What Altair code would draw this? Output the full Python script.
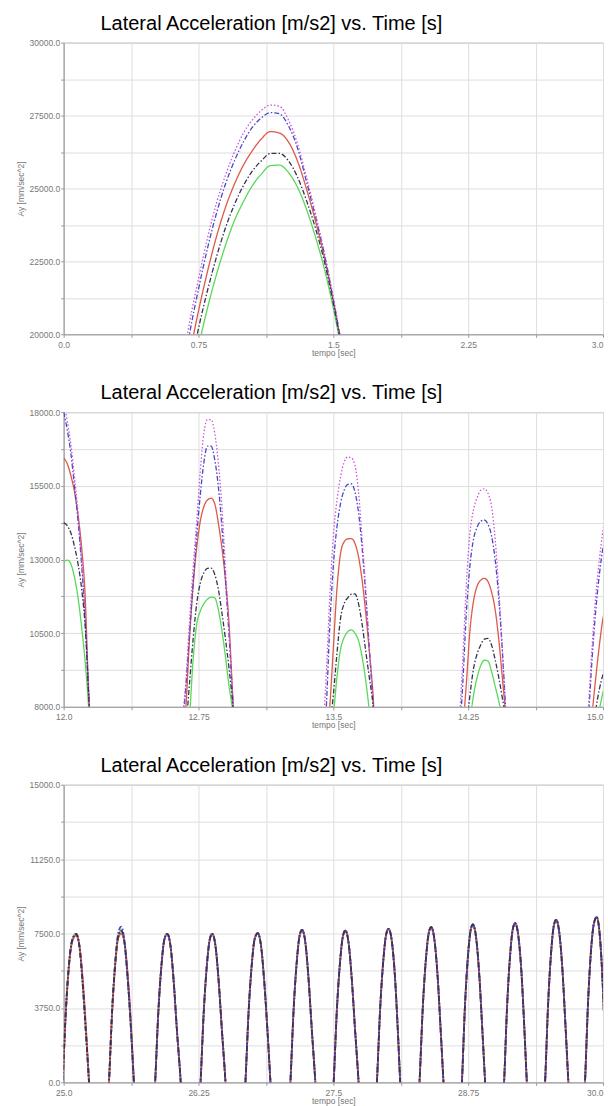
import altair as alt
import pandas as pd

TITLE = "Lateral Acceleration [m/s2] vs. Time [s]"
X_TITLE = "tempo [sec]"
Y_TITLE = "Ay [mm/sec^2]"

# draw order (first = bottom)
SERIES = ["green", "red", "blue", "magenta", "navy"]
COLORS = {"magenta": "#cc55d8", "blue": "#4848c8", "red": "#dd5a48",
          "navy": "#34344e", "green": "#5ad85a"}
DASHES = {"magenta": [1.5, 2], "blue": [5, 2, 1.5, 2], "red": [1, 0],
          "navy": [5, 2, 1.5, 2], "green": [1, 0]}

# ---------------- Panel 1 ----------------
p1_t = [0.65, 0.70, 0.75, 0.80, 0.85, 0.90, 0.95, 1.00, 1.05, 1.10,
        1.15, 1.20, 1.25, 1.30, 1.35, 1.40, 1.45, 1.50, 1.55]
p1_magenta = [18500, 20400, 21900, 23300, 24500, 25450, 26250, 26900, 27350, 27680,
              27860, 27820, 27350, 26550, 25400, 24150, 22800, 21250, 19500]
p1_blue = [18000, 20000, 21550, 22950, 24150, 25150, 25950, 26600, 27100, 27420,
           27600, 27560, 27150, 26400, 25250, 24050, 22750, 21200, 19500]
p1_red = [17800, 19300, 20800, 22150, 23350, 24350, 25150, 25800, 26300, 26700,
          26950, 26900, 26600, 25950, 25000, 23900, 22650, 21150, 19450]
p1_navy = [17200, 18700, 20200, 21500, 22650, 23650, 24450, 25100, 25600, 25950,
           26200, 26200, 25950, 25400, 24600, 23650, 22500, 21050, 19400]
p1_green = [16800, 18300, 19600, 20900, 22050, 23050, 23900, 24550, 25100, 25500,
            25780, 25800, 25550, 25050, 24300, 23350, 22250, 20900, 19300]
p1_xgrid = [0.0, 0.375, 0.75, 1.125, 1.5, 1.875, 2.25, 2.625, 3.0]
p1_xlab_v = [0.0, 0.75, 1.5, 2.25, 3.0]
p1_xlab = ["0.0", "0.75", "1.5", "2.25", "3.0"]
p1_ygrid = [20000, 21250, 22500, 23750, 25000, 26250, 27500, 28750, 30000]
p1_ylab_v = [20000, 22500, 25000, 27500, 30000]
p1_ylab = ["20000.0", "22500.0", "25000.0", "27500.0", "30000.0"]

# ---------------- Panel 2 ----------------
p2_t = [12.00, 12.02, 12.04, 12.06, 12.08, 12.10, 12.12, 12.14, 12.16,
        12.64, 12.66, 12.68, 12.70, 12.72, 12.74, 12.76, 12.78, 12.80, 12.82, 12.84, 12.86, 12.88, 12.90, 12.92, 12.94, 12.96,
        13.42, 13.44, 13.46, 13.48, 13.50, 13.52, 13.54, 13.56, 13.58, 13.60, 13.62, 13.64, 13.66, 13.68, 13.70, 13.72, 13.74,
        14.18, 14.20, 14.22, 14.24, 14.26, 14.28, 14.30, 14.32, 14.34, 14.36, 14.38, 14.40, 14.42, 14.44, 14.46, 14.48,
        14.90, 14.92, 14.94, 14.96, 14.98, 15.00, 15.02]
p2_magenta = [18400, 17700, 16900, 15800, 14600, 13000, 11100, 8600, 6200,
              6000, 7500, 8900, 10900, 12700, 14300, 16000, 17300, 17750, 17750, 17300, 16300, 14800, 12700, 10600, 8400, 6500,
              5500, 7000, 9000, 11700, 13800, 15000, 15800, 16300, 16480, 16450, 16200, 15300, 13700, 12000, 10000, 8200, 6500,
              5500, 7400, 9600, 12200, 13900, 14700, 15100, 15350, 15400, 15250, 14800, 13700, 12000, 10000, 7600, 5800,
              6000, 8100, 10100, 11800, 13000, 14000, 14600]
p2_blue = [18000, 17400, 16600, 15500, 14300, 12800, 10900, 8400, 6000,
           6000, 7300, 8700, 10500, 12200, 13800, 15200, 16300, 16850, 16850, 16400, 15500, 14100, 12300, 10400, 8300, 6500,
           5000, 6500, 7900, 10700, 12800, 14100, 14900, 15350, 15550, 15570, 15300, 14600, 13400, 11800, 10000, 8200, 6500,
           5000, 6800, 8800, 11200, 12800, 13700, 14100, 14300, 14340, 14200, 13800, 13000, 11700, 9900, 7800, 5800,
           5600, 7700, 9700, 11300, 12500, 13400, 13900]
p2_red = [16450, 16250, 15850, 15300, 14500, 13400, 11700, 8200, 6000,
          5000, 6500, 8000, 10300, 12100, 13400, 14300, 14800, 15020, 15080, 14900, 14250, 13400, 12300, 10800, 8400, 6200,
          4500, 5800, 7000, 8000, 10000, 12000, 13200, 13600, 13700, 13710, 13550, 13100, 12300, 11200, 9900, 8500, 6500,
          4500, 5800, 7200, 8800, 10600, 11600, 12100, 12300, 12360, 12250, 11900, 11300, 10300, 9000, 7600, 5800,
          5000, 6500, 7800, 9000, 10100, 11000, 11500]
p2_navy = [14250, 14150, 13900, 13450, 12850, 12000, 10700, 8300, 6000,
           5000, 6200, 7300, 8800, 10300, 11500, 12200, 12550, 12700, 12710, 12500, 12000, 11200, 10300, 9300, 8100, 6500,
           4000, 5200, 6300, 7300, 8400, 9800, 11000, 11500, 11700, 11820, 11830, 11500, 10800, 9900, 9000, 8100, 6500,
           4000, 5000, 6000, 7200, 8400, 9300, 9800, 10100, 10300, 10320, 10100, 9600, 9000, 8300, 7500, 6000,
           4500, 5800, 6900, 7900, 8600, 9100, 9500]
p2_green = [12920, 12980, 12850, 12400, 11700, 10700, 9500, 7900, 6000,
            4500, 5800, 7000, 7700, 9600, 10800, 11250, 11500, 11650, 11720, 11700, 11300, 10600, 9700, 8700, 7800, 6000,
            3500, 4800, 5800, 6800, 7700, 9000, 9950, 10350, 10550, 10610, 10500, 10250, 9700, 8900, 7900, 7000, 6000,
            3500, 4500, 5500, 6500, 7500, 8400, 9000, 9400, 9580, 9550, 9200, 8700, 8200, 7600, 6800, 5800,
            4000, 5200, 6300, 7200, 7900, 8500, 8900]
p2_xgrid = [12.0, 12.375, 12.75, 13.125, 13.5, 13.875, 14.25, 14.625, 15.0]
p2_xlab_v = [12.0, 12.75, 13.5, 14.25, 15.0]
p2_xlab = ["12.0", "12.75", "13.5", "14.25", "15.0"]
p2_ygrid = [8000, 9250, 10500, 11750, 13000, 14250, 15500, 16750, 18000]
p2_ylab_v = [8000, 10500, 13000, 15500, 18000]
p2_ylab = ["8000.0", "10500.0", "13000.0", "15500.0", "18000.0"]

# ---------------- Panel 3 ----------------
p3_t = [24.97, 24.99, 25.02, 25.05, 25.08, 25.115, 25.145, 25.175, 25.205, 25.235, 25.255,
        25.40, 25.42, 25.45, 25.48, 25.505, 25.534, 25.564, 25.594, 25.624, 25.651, 25.671,
        25.828, 25.848, 25.878, 25.908, 25.933, 25.96, 25.99, 26.02, 26.05, 26.085, 26.105,
        26.249, 26.269, 26.299, 26.329, 26.354, 26.377, 26.407, 26.437, 26.467, 26.5, 26.52,
        26.665, 26.685, 26.715, 26.745, 26.77, 26.799, 26.829, 26.859, 26.889, 26.917, 26.937,
        27.082, 27.102, 27.132, 27.162, 27.187, 27.21, 27.24, 27.27, 27.30, 27.333, 27.353,
        27.483, 27.503, 27.533, 27.563, 27.588, 27.611, 27.641, 27.671, 27.701, 27.734, 27.754,
        27.884, 27.904, 27.934, 27.964, 27.989, 28.012, 28.042, 28.072, 28.097, 28.12, 28.14,
        28.279, 28.299, 28.329, 28.359, 28.384, 28.407, 28.437, 28.467, 28.494, 28.521, 28.541,
        28.672, 28.692, 28.72, 28.748, 28.772, 28.793, 28.823, 28.853, 28.88, 28.907, 28.927,
        29.063, 29.083, 29.111, 29.139, 29.163, 29.185, 29.215, 29.245, 29.27, 29.294, 29.314,
        29.443, 29.463, 29.491, 29.519, 29.543, 29.565, 29.595, 29.625, 29.652, 29.679, 29.699,
        29.813, 29.833, 29.861, 29.889, 29.915, 29.941, 29.966, 29.991, 30.013, 30.035, 30.055]
p3_navy = [-2000, 0, 3590, 5990, 7190, 7485, 6890, 5090, 2620, 0, -2000,
           -2000, 0, 3670, 6120, 7340, 7650, 7040, 5200, 2680, 0, -2000,
           -2000, 0, 3590, 5990, 7190, 7485, 6890, 5090, 2620, 0, -2000,
           -2000, 0, 3590, 5990, 7190, 7485, 6890, 5090, 2620, 0, -2000,
           -2000, 0, 3610, 6010, 7210, 7515, 6910, 5110, 2630, 0, -2000,
           -2000, 0, 3690, 6150, 7380, 7685, 7070, 5230, 2690, 0, -2000,
           -2000, 0, 3670, 6120, 7340, 7650, 7040, 5200, 2680, 0, -2000,
           -2000, 0, 3710, 6190, 7430, 7735, 7120, 5260, 2710, 0, -2000,
           -2000, 0, 3750, 6260, 7510, 7820, 7190, 5320, 2740, 0, -2000,
           -2000, 0, 3820, 6360, 7640, 7955, 7320, 5410, 2780, 0, -2000,
           -2000, 0, 3850, 6420, 7700, 8020, 7380, 5450, 2810, 0, -2000,
           -2000, 0, 3930, 6550, 7860, 8190, 7530, 5570, 2870, 0, -2000,
           -2000, 0, 3990, 6660, 7990, 8320, 7650, 5660, 2910, 0, -2000]
p3_blue = [-2000, 0, 3590, 5990, 7190, 7485, 6890, 5090, 2620, 0, -2000,
           -2000, 0, 3700, 6200, 7500, 7850, 7100, 5200, 2680, 0, -2000,
           -2000, 0, 3590, 5990, 7190, 7485, 6890, 5090, 2620, 0, -2000,
           -2000, 0, 3590, 5990, 7190, 7485, 6890, 5090, 2620, 0, -2000,
           -2000, 0, 3610, 6010, 7210, 7515, 6910, 5110, 2630, 0, -2000,
           -2000, 0, 3690, 6150, 7380, 7685, 7070, 5230, 2690, 0, -2000,
           -2000, 0, 3670, 6120, 7340, 7650, 7040, 5200, 2680, 0, -2000,
           -2000, 0, 3710, 6190, 7430, 7735, 7120, 5260, 2710, 0, -2000,
           -2000, 0, 3750, 6260, 7510, 7820, 7190, 5320, 2740, 0, -2000,
           -2000, 0, 3820, 6360, 7640, 7955, 7320, 5410, 2780, 0, -2000,
           -2000, 0, 3850, 6420, 7700, 8020, 7380, 5450, 2810, 0, -2000,
           -2000, 0, 3930, 6550, 7860, 8190, 7530, 5570, 2870, 0, -2000,
           -2000, 0, 3990, 6660, 7990, 8320, 7650, 5660, 2910, 0, -2000]
p3_red = [-2000, 0, 3500, 5900, 7100, 7400, 6950, 5300, 2900, 0, -2000,
          -2000, 0, 3600, 6050, 7250, 7500, 7050, 5400, 2950, 0, -2000,
          -2000, 0, 3590, 5990, 7190, 7485, 6890, 5090, 2620, 0, -2000,
          -2000, 0, 3590, 5990, 7190, 7485, 6890, 5090, 2620, 0, -2000,
          -2000, 0, 3610, 6010, 7210, 7515, 6910, 5110, 2630, 0, -2000,
          -2000, 0, 3690, 6150, 7380, 7685, 7070, 5230, 2690, 0, -2000,
          -2000, 0, 3670, 6120, 7340, 7650, 7040, 5200, 2680, 0, -2000,
          -2000, 0, 3710, 6190, 7430, 7735, 7120, 5260, 2710, 0, -2000,
          -2000, 0, 3750, 6260, 7510, 7820, 7190, 5320, 2740, 0, -2000,
          -2000, 0, 3820, 6360, 7640, 7955, 7320, 5410, 2780, 0, -2000,
          -2000, 0, 3850, 6420, 7700, 8020, 7380, 5450, 2810, 0, -2000,
          -2000, 0, 3930, 6550, 7860, 8190, 7530, 5570, 2870, 0, -2000,
          -2000, 0, 3990, 6660, 7990, 8320, 7650, 5660, 2910, 0, -2000]
p3_magenta = p3_navy
p3_green = p3_navy
p3_xgrid = [25.0, 25.625, 26.25, 26.875, 27.5, 28.125, 28.75, 29.375, 30.0]
p3_xlab_v = [25.0, 26.25, 27.5, 28.75, 30.0]
p3_xlab = ["25.0", "26.25", "27.5", "28.75", "30.0"]
p3_ygrid = [0, 1875, 3750, 5625, 7500, 9375, 11250, 13125, 15000]
p3_ylab_v = [0, 3750, 7500, 11250, 15000]
p3_ylab = ["0.0", "3750.0", "7500.0", "11250.0", "15000.0"]

PLOT_W = 540
HEIGHTS = [292, 295, 298]


def label_expr(vals, texts):
    expr = "''"
    for v, s in reversed(list(zip(vals, texts))):
        expr = f"datum.value == {v} ? '{s}' : ({expr})"
    return expr


def make_panel(t, vals, xgrid, xlab_v, xlab, ygrid, ylab_v, ylab, height, width_line):
    xdom = [xgrid[0], xgrid[-1]]
    ydom = [ygrid[0], ygrid[-1]]
    xaxis = alt.Axis(values=xgrid, labelExpr=label_expr(xlab_v, xlab), title=X_TITLE,
                     titleX=PLOT_W / 2, titleY=18, titleAlign="center", titleBaseline="middle",
                     labelAlign=alt.condition(f"datum.value == {xdom[1]}", alt.value("right"), alt.value("center")),
                     tickSize=3, labelPadding=3, grid=True)
    yaxis = alt.Axis(values=ygrid, labelExpr=label_expr(ylab_v, ylab), title=Y_TITLE,
                     titleX=-43, titleY=height / 2, titleAngle=270, titleAlign="center",
                     titleBaseline="middle", tickSize=3, labelPadding=1, grid=True)
    layers = []
    for s in SERIES:
        df = pd.DataFrame({"t": t, "v": vals[s]})
        layers.append(
            alt.Chart(df).mark_line(clip=True, color=COLORS[s], strokeDash=DASHES[s],
                                    strokeWidth=width_line, interpolate="monotone").encode(
                x=alt.X("t:Q", scale=alt.Scale(domain=xdom, nice=False, zero=False), axis=xaxis),
                y=alt.Y("v:Q", scale=alt.Scale(domain=ydom, nice=False, zero=False), axis=yaxis),
            )
        )
    return alt.layer(*layers).properties(
        width=PLOT_W, height=height,
        title=alt.TitleParams(text=TITLE, font="Liberation Sans", fontSize=20, fontWeight="normal",
                              color="#000000", anchor="middle", frame="group", dx=-62,
                              baseline="middle", offset=15, dy=20),
    )


p1 = make_panel(p1_t, {"magenta": p1_magenta, "blue": p1_blue, "red": p1_red, "navy": p1_navy, "green": p1_green},
                p1_xgrid, p1_xlab_v, p1_xlab, p1_ygrid, p1_ylab_v, p1_ylab, HEIGHTS[0], 1.3)
p2 = make_panel(p2_t, {"magenta": p2_magenta, "blue": p2_blue, "red": p2_red, "navy": p2_navy, "green": p2_green},
                p2_xgrid, p2_xlab_v, p2_xlab, p2_ygrid, p2_ylab_v, p2_ylab, HEIGHTS[1], 1.3)
p3 = make_panel(p3_t, {"magenta": p3_magenta, "blue": p3_blue, "red": p3_red, "navy": p3_navy, "green": p3_green},
                p3_xgrid, p3_xlab_v, p3_xlab, p3_ygrid, p3_ylab_v, p3_ylab, HEIGHTS[2], 1.8)

chart = (
    alt.vconcat(p1, p2, p3, spacing=78, bounds="flush")
    .properties(padding={"left": 15.75, "top": 12, "right": 4, "bottom": 0})
    .configure_axis(gridColor="#dedede", gridWidth=1, domainColor="#9a9a9a", tickColor="#9a9a9a",
                    labelColor="#777777", labelFont="Liberation Sans", labelFontSize=8.5,
                    titleFont="Liberation Sans", titleFontSize=8.5, titleFontWeight="normal",
                    titleColor="#777777")
    .configure_view(stroke="#aaaaaa")
)

chart.save("out.html", embed_options={"renderer": "svg", "actions": False})
